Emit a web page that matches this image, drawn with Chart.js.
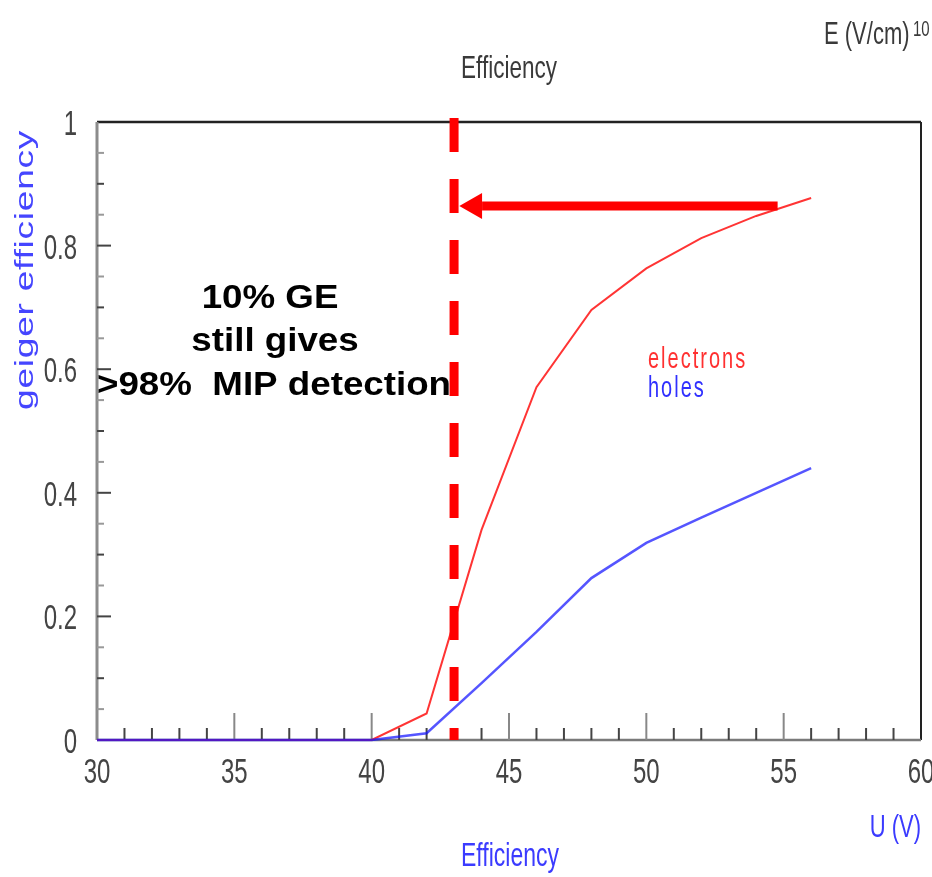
<!DOCTYPE html>
<html>
<head>
<meta charset="utf-8">
<script src="https://cdn.jsdelivr.net/npm/chart.js@4/dist/chart.umd.min.js"></script>
<style>
  html, body { margin: 0; padding: 0; background: #fff; }
  #wrap { width: 932px; height: 877px; }
</style>
</head>
<body>
<div id="wrap"><canvas id="effChart" width="932" height="877"></canvas></div>
<script>
// bias voltage (V) and geiger efficiency
const voltage   = [30, 32, 34, 36, 38, 40, 42, 44, 46, 48, 50, 52, 54, 56];
const electrons = [0, 0, 0, 0, 0, 0, 0.043, 0.34, 0.571, 0.696, 0.763, 0.812, 0.848, 0.877];
const holes     = [0, 0, 0, 0, 0, 0, 0.011, 0.092, 0.175, 0.262, 0.319, 0.36, 0.40, 0.44];

// annotation: threshold line at 43 V and arrow from the electron curve
const thresholdVoltage = 43;
const arrowLevel = 0.864;
const arrowStart = 54.78;
const arrowTip = 43.19;
const arrowHeadBase = 44.02;

const xTicks = [30, 35, 40, 45, 50, 55, 60];
const xTickLabels = ['30', '35', '40', '45', '50', '55', '60'];
const yTicks = [0, 0.2, 0.4, 0.6, 0.8, 1];
const yTickLabels = ['0', '0.2', '0.4', '0.6', '0.8', '1'];

const ROOT_FONT = '"Liberation Sans", Arial, sans-serif';
const STRETCH = 1.43; // the ROOT picture is stretched vertically

function drawText(ctx, text, x, y, o) {
    ctx.save();
    ctx.translate(x, y);
    if (o.rotate) ctx.rotate(o.rotate);
    ctx.scale(o.sx || 1, o.sy || 1);
    ctx.font = o.font;
    ctx.fillStyle = o.color || '#333';
    ctx.textAlign = o.align || 'left';
    ctx.textBaseline = 'alphabetic';
    if (o.spacing) ctx.letterSpacing = o.spacing;
    ctx.fillText(text, 0, 0);
    ctx.restore();
}

function line(ctx, x1, y1, x2, y2, color, width) {
    ctx.beginPath();
    ctx.moveTo(x1, y1);
    ctx.lineTo(x2, y2);
    ctx.strokeStyle = color;
    ctx.lineWidth = width;
    ctx.stroke();
}

const rootFrame = {
    id: 'rootFrame',
    beforeDatasetsDraw(chart) {
        const { ctx, chartArea: a, scales: { x, y } } = chart;
        ctx.save();
        // frame
        line(ctx, a.left, a.top, a.right, a.top, '#222', 2.5);
        line(ctx, a.right, a.top, a.right, a.bottom, '#222', 2);
        line(ctx, a.left, a.top, a.left, a.bottom, '#8c8c8c', 3);
        line(ctx, a.left, a.bottom, a.right, a.bottom, '#7a7a7a', 2.5);

        // y ticks (inside, every 0.05, long on labelled values)
        for (let i = 1; i < 20; i++) {
            const py = y.getPixelForValue(i * 0.05);
            const len = i % 4 === 0 ? 14 : 7;
            line(ctx, a.left, py, a.left + len, py, i % 2 === 0 ? '#444' : '#999', 2);
        }
        // x ticks (inside, every 1 V, long every 5 V)
        for (let v = 31; v < 60; v++) {
            const px = x.getPixelForValue(v);
            const len = v % 5 === 0 ? 27 : 12;
            line(ctx, px, a.bottom, px, a.bottom - len, v % 5 === 0 ? '#888' : '#444', 2);
        }

        // tick labels
        xTicks.forEach((v, i) => {
            drawText(ctx, xTickLabels[i], x.getPixelForValue(v), a.bottom + 43,
                { font: '24px ' + ROOT_FONT, sy: STRETCH, align: 'center', color: '#444' });
        });
        yTicks.forEach((v, i) => {
            drawText(ctx, yTickLabels[i], a.left - 20, y.getPixelForValue(v) + 13,
                { font: '24px ' + ROOT_FONT, sy: STRETCH, align: 'right', color: '#444' });
        });
        ctx.restore();
    },
    afterDatasetsDraw(chart) {
        const { ctx, chartArea: a, scales: { x, y } } = chart;
        ctx.save();

        // arrow head
        const ty = y.getPixelForValue(arrowLevel);
        ctx.beginPath();
        ctx.moveTo(x.getPixelForValue(arrowTip), ty);
        ctx.lineTo(x.getPixelForValue(arrowHeadBase), ty - 13);
        ctx.lineTo(x.getPixelForValue(arrowHeadBase), ty + 13);
        ctx.closePath();
        ctx.fillStyle = '#ff0000';
        ctx.fill();

        // titles
        drawText(ctx, 'Efficiency', (a.left + a.right) / 2, 78,
            { font: '22.5px ' + ROOT_FONT, sy: STRETCH, align: 'center', color: '#3a3a3a' });
        drawText(ctx, 'E (V/cm)', 824, 44,
            { font: '22px ' + ROOT_FONT, sy: STRETCH, color: '#3a3a3a' });
        drawText(ctx, '10', 913, 36,
            { font: '15px ' + ROOT_FONT, sy: STRETCH, color: '#3a3a3a' });
        drawText(ctx, 'U (V)', a.right, 837,
            { font: '22px ' + ROOT_FONT, sy: STRETCH, align: 'right', color: '#3b3bff' });
        drawText(ctx, 'Efficiency', 510, 866,
            { font: '23px ' + ROOT_FONT, sy: STRETCH, align: 'center', color: '#3b3bff' });
        drawText(ctx, 'geiger efficiency', 33, 410,
            { font: '26px ' + ROOT_FONT, sx: STRETCH, rotate: -Math.PI / 2, spacing: '0.5px', color: '#4545ff' });

        // curve labels
        drawText(ctx, 'electrons', 648, 368,
            { font: '20px ' + ROOT_FONT, sy: 1.45, spacing: '2px', color: '#ff3030' });
        drawText(ctx, 'holes', 648, 397,
            { font: '20px ' + ROOT_FONT, sy: 1.45, spacing: '2px', color: '#3030ff' });

        // note
        const note = { font: 'bold 34px "Liberation Sans", Arial, sans-serif', sx: 1.08, align: 'center', color: '#000' };
        drawText(ctx, '10% GE', 270, 308, note);
        drawText(ctx, 'still gives', 275, 351, note);
        drawText(ctx, '>98%  MIP detection', 274, 395, note);
        ctx.restore();
    }
};

const points = (ys) => voltage.map((v, i) => ({ x: v, y: ys[i] }));

new Chart(document.getElementById('effChart').getContext('2d'), {
    type: 'line',
    data: {
        datasets: [
            {
                label: 'threshold',
                data: [{ x: thresholdVoltage, y: 1.0065 }, { x: thresholdVoltage, y: 0 }],
                borderColor: '#ff0000',
                borderWidth: 9,
                borderDash: [34, 27],
                borderCapStyle: 'butt',
                pointRadius: 0,
                clip: false,
            },
            {
                label: 'arrow',
                data: [{ x: arrowStart, y: arrowLevel }, { x: arrowHeadBase, y: arrowLevel }],
                borderColor: '#ff0000',
                borderWidth: 9,
                borderCapStyle: 'butt',
                pointRadius: 0,
                clip: false,
            },
            {
                label: 'holes',
                data: points(holes),
                borderColor: 'rgba(20, 20, 255, 0.72)',
                borderWidth: 2.5,
                pointRadius: 0,
                clip: false,
            },
            {
                label: 'electrons',
                data: points(electrons),
                borderColor: 'rgba(255, 30, 30, 0.9)',
                borderWidth: 2,
                pointRadius: 0,
                clip: false,
            }
        ]
    },
    options: {
        responsive: false,
        animation: false,
        devicePixelRatio: 1,
        layout: { padding: { left: 97, right: 11, top: 122, bottom: 137 } },
        scales: {
            x: { type: 'linear', min: 30, max: 60, display: false },
            y: { min: 0, max: 1, display: false }
        },
        plugins: {
            legend: { display: false },
            tooltip: { enabled: false }
        }
    },
    plugins: [rootFrame]
});
</script>
</body>
</html>
